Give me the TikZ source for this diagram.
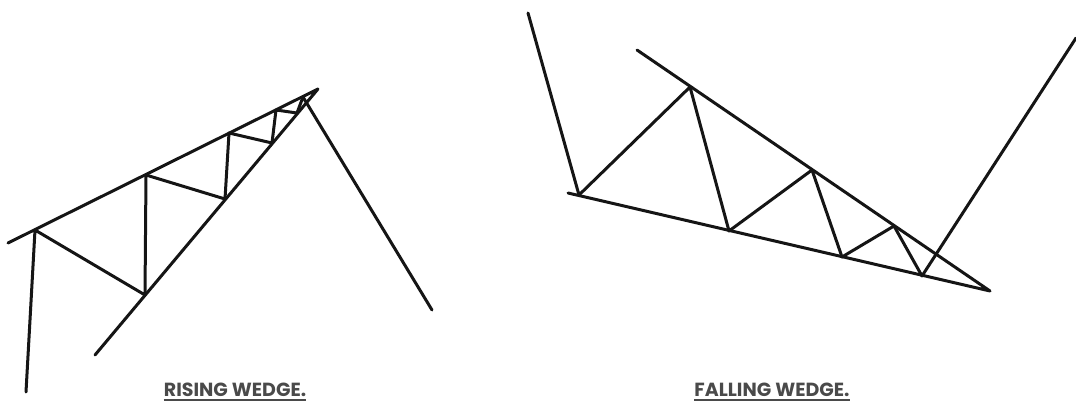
\documentclass[tikz,border=0pt]{standalone}
\usepackage{fontspec}
\setmainfont{Poppins}
\definecolor{ink}{HTML}{151515}
\definecolor{labelgray}{HTML}{4A4A4A}
\tikzset{
  every picture/.style={line join=round, line cap=round},
  wedge/.style={ink, line width=3pt},
  wedgelabel/.style={labelgray, anchor=base, inner sep=0pt, font=\fontsize{19}{21}\selectfont\bfseries},
  uline/.style={labelgray, line width=1.4pt, line cap=butt},
}

\begin{document}
\begin{tikzpicture}[x=1pt,y=-1pt]
\useasboundingbox (0,0) rectangle (1076,403);
% rising wedge
\coordinate (rt0) at (8,243);   \coordinate (rb0) at (95,355);  \coordinate (rtop) at (318,89);
\coordinate (rleg) at (26,392); \coordinate (rdrop) at (432,310);
\coordinate (rp1) at (35,230);  \coordinate (rq1) at (145,295);
\coordinate (rp2) at (146,175); \coordinate (rq2) at (225,199);
\coordinate (rp3) at (229,133); \coordinate (rq3) at (272,143);
\coordinate (rp4) at (276,110); \coordinate (rq4) at (297,113);
\coordinate (rp5) at (303,97);
\draw[wedge] (rt0)--(rtop)--(rb0);
\draw[wedge] (rleg)--(rp1)--(rq1)--(rp2)--(rq2)--(rp3)--(rq3)--(rp4)--(rq4)--(rp5)--(rdrop);
% falling wedge
\coordinate (ft0) at (637,50);  \coordinate (fb0) at (568,193); \coordinate (fend) at (990,291);
\coordinate (fleg) at (528,13); \coordinate (frise) at (1076,38);
\coordinate (fq1) at (579,195); \coordinate (fp1) at (690,87);
\coordinate (fq2) at (729,231); \coordinate (fp2) at (812,170);
\coordinate (fq3) at (842,257); \coordinate (fp3) at (894,226);
\coordinate (fq4) at (922,276);
\draw[wedge] (ft0)--(fend)--(fb0);
\draw[wedge] (fleg)--(fq1)--(fp1)--(fq2)--(fp2)--(fq3)--(fp3)--(fq4)--(frise);
% labels
\node[wedgelabel] (rlab) at (235,396) {RISING WEDGE.};
\node[wedgelabel] (flab) at (772,396) {FALLING WEDGE.};
\draw[uline] ([yshift=-4pt]rlab.base west)--([yshift=-4pt]rlab.base east);
\draw[uline] ([yshift=-4pt]flab.base west)--([yshift=-4pt]flab.base east);
\end{tikzpicture}
\end{document}
